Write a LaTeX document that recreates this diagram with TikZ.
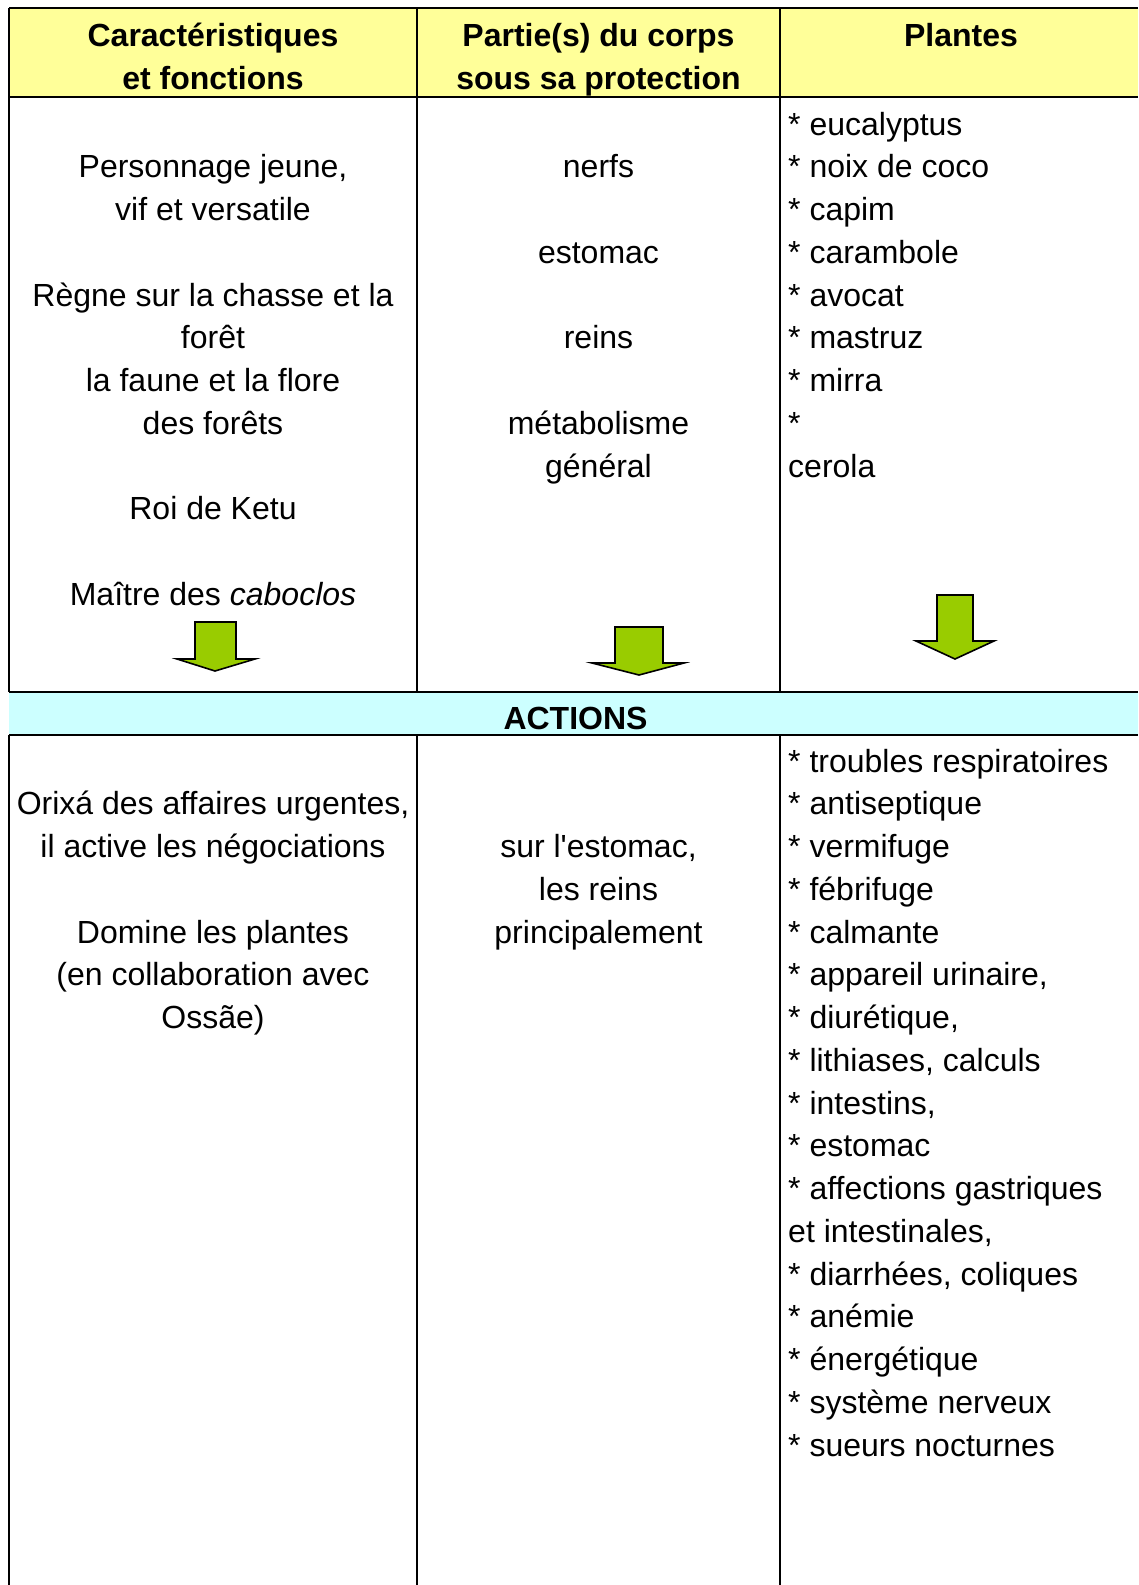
\documentclass[tikz,border=0pt]{standalone}
\usepackage{fontspec}
\setmainfont{Liberation Sans}
\usetikzlibrary{positioning}
\definecolor{headyellow}{RGB}{255,255,153}
\definecolor{bandcyan}{RGB}{204,255,255}
\definecolor{arrowgreen}{RGB}{153,204,0}

\tikzset{
  cell/.style={font=\fontsize{32}{40}\selectfont,anchor=base,inner sep=0pt},
  head/.style={font=\fontsize{32}{40}\selectfont\bfseries,anchor=base,inner sep=0pt},
  plant/.style={cell,anchor=base west},
  rule/.style={draw=black,line width=2.5pt},
  downarrow/.style={fill=arrowgreen,draw=black,line width=1.6pt,line join=miter}
}

\begin{document}
\begin{tikzpicture}[x=1pt,y=-1pt]
    \useasboundingbox (0,0) rectangle (1138,1585);
    \def\ytop{135}   % first text line, upper part
    \def\ybot{772}   % first text line, lower part
    \def\dy{42.75}

    % Header and ACTIONS band
    \fill[headyellow] (9,8) rectangle (1138,97);
    \fill[bandcyan] (9,692) rectangle (1138,735);

    % Grid
    \draw[rule] (9,8) -- (1138,8);
    \draw[rule] (9,97) -- (1138,97);
    \draw[rule] (9,692) -- (1138,692);
    \draw[rule] (9,735) -- (1138,735);
    \foreach \x in {9,417,780} {
      \draw[rule] (\x,8) -- (\x,692);
      \draw[rule] (\x,735) -- (\x,1585);
    }

    % Column titles
    \node[head] (h1a) at (213,46) {Caractéristiques};
    \node[head] (h1b) at (213,89) {et fonctions};
    \node[head] (h2a) at (598.5,46) {Partie(s) du corps};
    \node[head] (h2b) at (598.5,89) {sous sa protection};
    \node[head] (h3) at (961,46) {Plantes};

    % Upper part: characteristics
    \foreach \i/\t in {1/{Personnage jeune,},2/vif et versatile,4/Règne sur la chasse et la,
                       5/forêt,6/la faune et la flore,7/des forêts,9/Roi de Ketu,
                       11/Maître des \textit{caboclos}}
      \node[cell] (car\i) at (213,{\ytop+\i*\dy}) {\t};

    % Upper part: body parts
    \foreach \i/\t in {1/nerfs,3/estomac,5/reins,7/métabolisme,8/général}
      \node[cell] (part\i) at (598.5,{\ytop+\i*\dy}) {\t};

    % Upper part: plants
    \foreach \i/\t in {0/* eucalyptus,1/* noix de coco,2/* capim,3/* carambole,
                       4/* avocat,5/* mastruz,6/* mirra,7/*,8/cerola}
      \node[plant] (pl\i) at (788,{\ytop+\i*\dy}) {\t};

    % Arrows down to the actions
    \draw[downarrow] (195,622) -- (236,622) -- (236,659) -- (255,659) -- (215,671)
      -- (177,659) -- (195,659) -- cycle;
    \draw[downarrow] (615,627) -- (663,627) -- (663,663) -- (684,663) -- (639,675)
      -- (592,663) -- (615,663) -- cycle;
    \draw[downarrow] (937,595) -- (973,595) -- (973,641) -- (994,641) -- (955,659)
      -- (916,641) -- (937,641) -- cycle;

    % ACTIONS
    \node[head] (act) at (575.5,729) {ACTIONS};

    % Lower part: functions
    \foreach \i/\t in {1/{Orixá des affaires urgentes,},2/il active les négociations,
                       4/Domine les plantes,5/(en collaboration avec,6/Ossãe)}
      \node[cell] (fn\i) at (213,{\ybot+\i*\dy}) {\t};

    % Lower part: action on the body
    \foreach \i/\t in {2/{sur l\textquotesingle estomac,},3/les reins,4/principalement}
      \node[cell] (on\i) at (598.5,{\ybot+\i*\dy}) {\t};

    % Lower part: uses of the plants
    \foreach \i/\t in {0/* troubles respiratoires,1/* antiseptique,2/* vermifuge,
                       3/* fébrifuge,4/* calmante,5/{* appareil urinaire,},6/{* diurétique,},
                       7/{* lithiases, calculs},8/{* intestins,},9/* estomac,
                       10/* affections gastriques,11/{et intestinales,},12/{* diarrhées, coliques},
                       13/* anémie,14/* énergétique,15/* système nerveux,16/* sueurs nocturnes}
      \node[plant] (use\i) at (788,{\ybot+\i*\dy}) {\t};
\end{tikzpicture}
\end{document}
